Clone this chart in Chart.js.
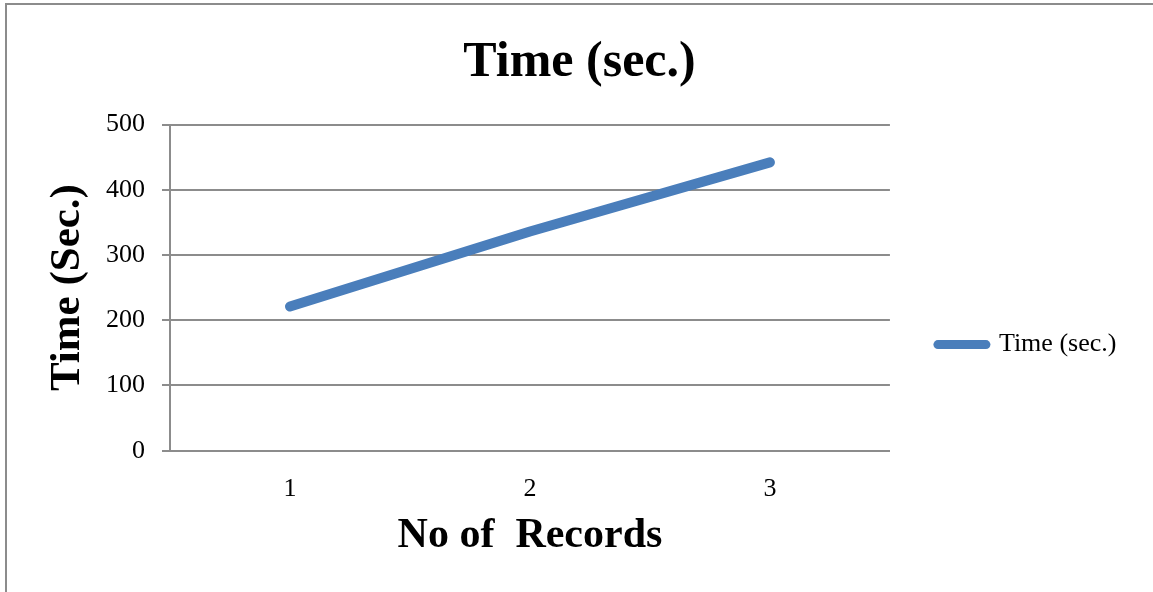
<!DOCTYPE html>
<html>
<head>
<meta charset="utf-8">
<script src="https://cdn.jsdelivr.net/npm/chart.js@4.4.1/dist/chart.umd.min.js"></script>
<style>
  html, body { margin: 0; padding: 0; background: #ffffff; overflow: hidden; }
  #wrap { position: relative; width: 1153px; height: 592px; overflow: hidden; }
  #frame {
    position: absolute; left: 5px; top: 3px; width: 1200px; height: 640px;
    border-left: 2px solid #8c8c8c; border-top: 2px solid #8c8c8c;
  }
  canvas { position: absolute; left: 0; top: 0; }
</style>
</head>
<body>
<div id="wrap">
  <div id="frame"></div>
  <canvas id="chart" width="1153" height="592"></canvas>
</div>
<script>
// Run time per number of records
const records = ['1', '2', '3'];
const timeSec = [221, 336, 442];
const yTickValues = [0, 100, 200, 300, 400, 500];

const chartTitle = 'Time (sec.)';
const seriesName = 'Time (sec.)';
const xTitle = 'No of  Records';
const yTitle = 'Time (Sec.)';

const gridColor = '#8c8c8c';
const lineColor = '#4a7ebb';
const serif = 'Liberation Serif';

new Chart(document.getElementById('chart'), {
  type: 'line',
  data: {
    labels: records,
    datasets: [{
      label: seriesName,
      data: timeSec,
      borderColor: lineColor,
      backgroundColor: lineColor,
      borderWidth: 10,
      borderCapStyle: 'round',
      borderJoinStyle: 'round',
      pointRadius: 0,
      pointHoverRadius: 0,
      tension: 0,
      fill: false
    }]
  },
  options: {
    responsive: false,
    devicePixelRatio: 1,
    animation: false,
    layout: { padding: { left: 32.6, top: 0, right: 26.6, bottom: 0 } },
    plugins: {
      title: {
        display: true,
        text: chartTitle,
        color: '#000000',
        font: { family: serif, size: 50, weight: 'bold' },
        padding: { top: 33, bottom: 31.5 }
      },
      legend: {
        position: 'right',
        align: 'center',
        title: { display: true, text: '', padding: { top: 97, bottom: 0 }, font: { size: 0.1 } },
        labels: {
          usePointStyle: true,
          pointStyle: 'line',
          pointStyleWidth: 48,
          padding: 48,
          color: '#000000',
          font: { family: serif, size: 26 },
          generateLabels: chart =>
            Chart.defaults.plugins.legend.labels.generateLabels(chart).map(item => ({
              ...item, lineCap: 'round', lineWidth: 9
            }))
        }
      },
      tooltip: { enabled: false }
    },
    scales: {
      x: {
        offset: true,
        grid: { display: true, drawOnChartArea: false, drawTicks: false },
        border: { display: true, color: gridColor, width: 2 },
        ticks: {
          color: '#000000',
          padding: 22.5,
          font: { family: serif, size: 26 }
        },
        title: {
          display: true,
          text: xTitle,
          color: '#000000',
          font: { family: serif, size: 42, weight: 'bold' },
          padding: { top: 0, bottom: 31 }
        },
        afterFit: s => { s.height = 141.3; }
      },
      y: {
        min: 0,
        max: 500,
        afterBuildTicks: s => { s.ticks = yTickValues.map(v => ({ value: v })); },
        grid: { color: gridColor, lineWidth: 2, drawTicks: true, tickLength: 8, tickColor: gridColor },
        border: { display: true, color: gridColor, width: 2 },
        ticks: {
          color: '#000000',
          padding: 17,
          font: { family: serif, size: 26 }
        },
        title: {
          display: true,
          text: yTitle,
          color: '#000000',
          font: { family: serif, size: 43, weight: 'bold' },
          padding: { top: 9.1, bottom: 0 }
        },
        afterFit: s => { s.width = 137.4; }
      }
    }
  }
});
</script>
</body>
</html>
